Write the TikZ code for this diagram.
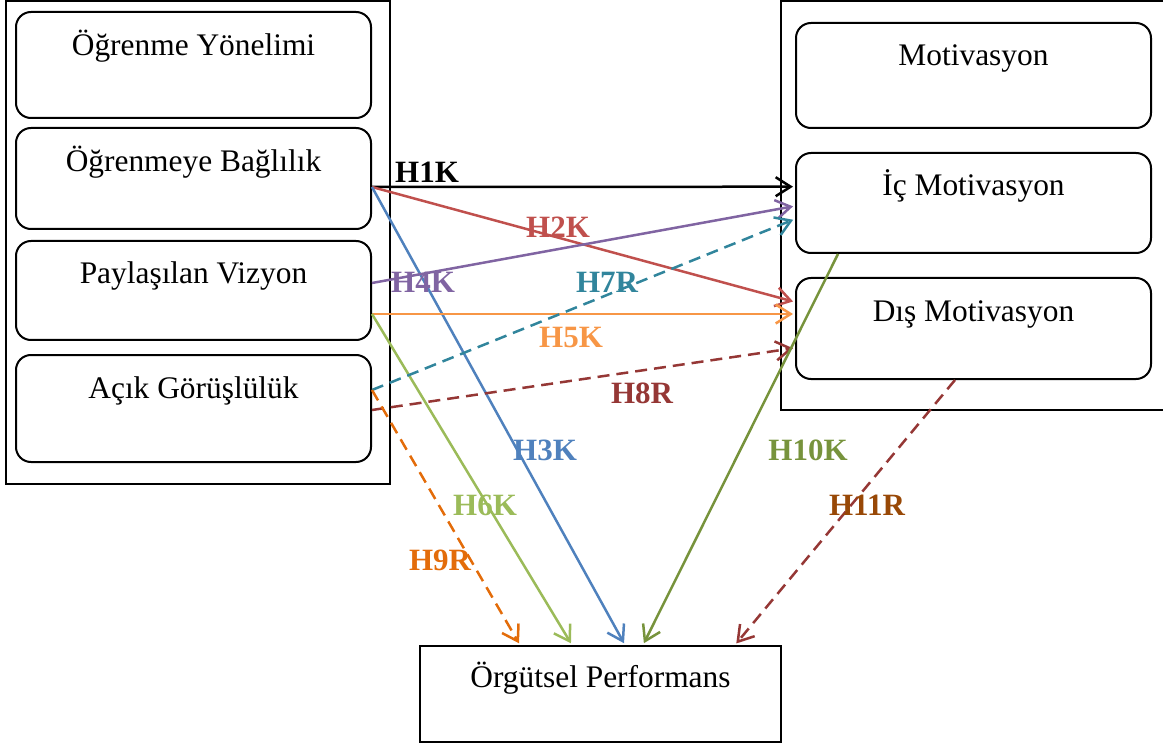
\documentclass[tikz,border=0pt]{standalone}
\usepackage{fontspec}
\setmainfont{Liberation Serif}
\usetikzlibrary{arrows.meta}
\definecolor{cHtwo}{HTML}{C0504D}
\definecolor{cHthree}{HTML}{4F81BD}
\definecolor{cHfour}{HTML}{8064A2}
\definecolor{cHfive}{HTML}{F79646}
\definecolor{cHsix}{HTML}{9BBB59}
\definecolor{cHseven}{HTML}{31859C}
\definecolor{cHeight}{HTML}{953735}
\definecolor{cHnine}{HTML}{E36C0A}
\definecolor{cHten}{HTML}{77933C}
\definecolor{cHeleven}{HTML}{984806}
\begin{document}
\begin{tikzpicture}[x=1pt,y=-1pt,
  frame/.style={draw,line width=2pt,inner sep=0pt},
  box/.style={draw,line width=2pt,rounded corners=15pt,minimum width=355pt,inner sep=0pt},
  txt/.style={anchor=base,inner sep=0pt,font=\fontsize{31.4}{36}\selectfont},
  lab/.style={anchor=base,inner sep=0pt,font=\fontsize{31}{36}\selectfont\bfseries},
  link/.style={line width=2.5pt,-{Straight Barb[length=15pt,width=19pt]},shorten >=2pt},
  dsh/.style={dash pattern=on 12pt off 7pt}]
\useasboundingbox (0,0) rectangle (1163,746);

% left group of learning dimensions
\node[frame,minimum width=384pt,minimum height=483pt] (left) at (198,242.5) {};
\node[box,minimum height=106pt] (b1) at (193.5,65) {};
\node[box,minimum height=101pt] (b2) at (193.5,178.5) {};
\node[box,minimum height=99pt]  (b3) at (193.5,290.5) {};
\node[box,minimum height=107pt] (b4) at (193.5,408.5) {};
\node[txt] (t1) at ([yshift=-45pt]b1.north) {Öğrenme Yönelimi};
\node[txt] (t2) at ([yshift=-45pt]b2.north) {Öğrenmeye Bağlılık};
\node[txt] (t3) at ([yshift=-44pt]b3.north) {Paylaşılan Vizyon};
\node[txt] (t4) at ([yshift=-45pt]b4.north) {Açık Görüşlülük};

% right group: motivation (frame open on the right side)
\draw[line width=2pt] (1166,1) -- (780.5,1) -- (780.5,410) -- (1166,410);
\node[box,minimum height=105pt] (mot) at (973.5,75.5) {};
\node[box,minimum height=100pt] (ic)  at (973.5,203) {};
\node[box,minimum height=101pt] (dis) at (973.5,328.5) {};
\node[txt] (t5) at ([yshift=-44pt]mot.north) {Motivasyon};
\node[txt] (t6) at ([yshift=-44pt]ic.north) {İç Motivasyon};
\node[txt] (t7) at ([yshift=-45pt]dis.north) {Dış Motivasyon};

% outcome
\node[frame,minimum width=361pt,minimum height=96pt] (perf) at (600.5,694) {};
\node[txt] (t8) at ([yshift=-42pt]perf.north) {Örgütsel Performans};

% connector end points
\coordinate (b2o)  at ([yshift=-8.5pt]b2.east);
\coordinate (b3a)  at ([yshift=7.5pt]b3.east);
\coordinate (b3b)  at ([yshift=-23.5pt]b3.east);
\coordinate (b4a)  at ([yshift=18.5pt]b4.east);
\coordinate (b4b)  at ([yshift=-1.5pt]b4.east);
\coordinate (ic1)  at ([yshift=16.3pt]ic.west);
\coordinate (ic4)  at ([yshift=-3pt]ic.west);
\coordinate (ic7)  at ([yshift=-16pt]ic.west);
\coordinate (dis2) at ([yshift=26.5pt]dis.west);
\coordinate (dis5) at ([yshift=14.5pt]dis.west);
\coordinate (dis8) at ([yshift=-19.5pt]dis.west);
\coordinate (ics)  at ([xshift=-135.5pt]ic.south);
\coordinate (diss) at ([xshift=-18.5pt]dis.south);
\coordinate (p9)   at ([xshift=-80.5pt]perf.north);
\coordinate (p6)   at ([xshift=-28.5pt]perf.north);
\coordinate (p3)   at ([xshift=24.5pt]perf.north);
\coordinate (p10)  at ([xshift=42.5pt]perf.north);
\coordinate (p11)  at ([xshift=134.5pt]perf.north);

% hypotheses
\draw[link,black]         (b2o) -- (ic1);
\draw[link,cHtwo]         (b2o) -- (dis2);
\draw[link,cHthree]       (b2o) -- (p3);
\draw[link,cHfour]        (b3a) -- (ic4);
\draw[link,cHfive]        (b3b) -- (dis5);
\draw[link,cHsix]         (b3b) -- (p6);
\draw[link,dsh,cHseven]   (b4a) -- (ic7);
\draw[link,dsh,cHeight]   (b4b) -- (dis8);
\draw[link,dsh,cHnine]    (b4a) -- (p9);
\draw[link,cHten]         (ics) -- (p10);
\draw[link,dsh,cHeight]   (diss) -- (p11);

% hypothesis labels
\node[lab,black]     (l1)  at (427,183) {H1K};
\node[lab,cHtwo]     (l2)  at (558,238) {H2K};
\node[lab,cHthree]   (l3)  at (545,460) {H3K};
\node[lab,cHfour]    (l4)  at (423,293) {H4K};
\node[lab,cHfive]    (l5)  at (571,348) {H5K};
\node[lab,cHsix]     (l6)  at (485,515) {H6K};
\node[lab,cHseven]   (l7)  at (607,293) {H7R};
\node[lab,cHeight]   (l8)  at (642,403) {H8R};
\node[lab,cHnine]    (l9)  at (440,570) {H9R};
\node[lab,cHten]     (l10) at (808,460) {H10K};
\node[lab,cHeleven]  (l11) at (867,515) {H11R};
\end{tikzpicture}
\end{document}
